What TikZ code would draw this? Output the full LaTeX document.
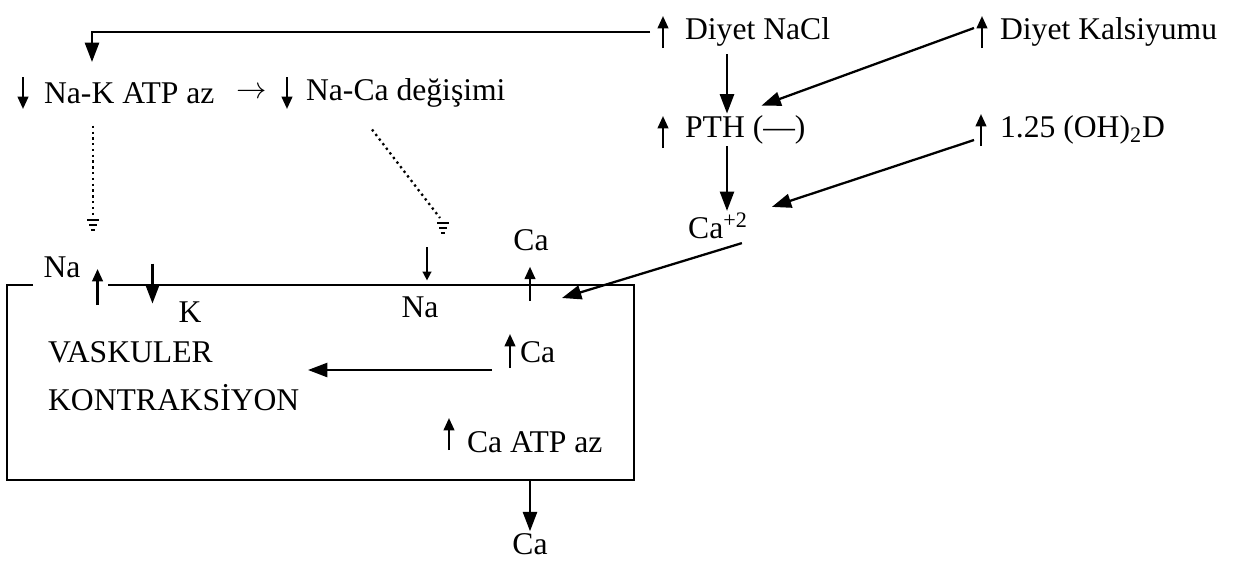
\documentclass[tikz,border=0pt]{standalone}
\usepackage{fontspec}
\setmainfont{Liberation Serif}
\usetikzlibrary{arrows.meta, calc}
\tikzset{
  lbl/.style={inner sep=1pt, font=\fontsize{18}{20}\selectfont},
  arr/.style={-{Triangle[length=11pt, width=8pt]}, line width=1.3pt},
  ind/.style={-{Triangle[length=7pt, width=6pt]}, line width=1.3pt},
  thinind/.style={-{Triangle[length=5pt, width=5pt]}, line width=0.9pt},
  dots/.style={dotted, line width=1.3pt},
  pics/upmark/.style={code={\draw[ind] (0,16) -- (0,-16);}},
  pics/downmark/.style={code={\draw[ind] (0,-16) -- (0,16);}},
  pics/gndmark/.style={code={\draw[line width=1.2pt] (-6,0) -- (6,0) (-4,5) -- (4,5) (-2,10) -- (2,10);}}
}

\begin{document}
\begin{tikzpicture}[x=0.02cm, y=-0.02cm]
\useasboundingbox (0,0) rectangle (1235,562);

% top row
\node[lbl, anchor=west] (nacl) at (683,32) {Diyet NaCl};
\node[lbl, anchor=west] (kals) at (998,32) {Diyet Kalsiyumu};
\node[lbl, anchor=west] (nak) at (42,93) {Na-K ATP az};
\node[lbl] (to) at (252,93) {$\rightarrow$};
\node[lbl, anchor=west] (naca) at (304,93) {Na-Ca değişimi};
\node[lbl, anchor=west] (pth) at (683,130) {PTH (---)};
\node[lbl, anchor=west] (vitd) at (998,130) {1.25 (OH)\textsubscript{2}D};
\node[lbl] (ca2) at (718,226) {Ca\textsuperscript{+2}};

\pic at ($(nacl.west)+(-20,0)$) {upmark};
\pic at ($(kals.west)+(-16,0)$) {upmark};
\pic at ($(nak.west)+(-19,0)$) {downmark};
\pic at ($(naca.west)+(-17,0)$) {downmark};
\pic at ($(pth.west)+(-20,2)$) {upmark};
\pic at ($(vitd.west)+(-17,0)$) {upmark};

% connectors
\coordinate (tonak) at ($(nak.west)+(50,-31)$);
\coordinate (stem) at ($(nacl.south west)+(44,6)$);
\draw[arr] ($(nacl.west)+(-33,0)$) -| (tonak);
\draw[arr] (stem) -- (stem |- pth.north);
\draw[arr] (stem |- pth.south) -- (stem |- ca2.north);
\draw[arr] ($(kals.west)+(-24,-4)$) -- ($(pth.north east)+(-46,-8)$);
\draw[arr] ($(vitd.west)+(-24,10)$) -- ($(ca2.north east)+(22,-4)$);
\coordinate (cain) at (562,298);
\draw[arr] ($(ca2.south east)+(-8,2)$) -- (cain);

% dotted effects
\coordinate (g1) at (93,220);
\coordinate (g2) at (443,223);
\draw[dots] ($(nak.south west)+(51,20)$) -- ($(g1)+(0,-4)$);
\draw[dots] ($(naca.south west)+(68,20)$) -- ($(g2)+(-3,-5)$);
\pic at (g1) {gndmark};
\pic at (g2) {gndmark};

% cell
\draw[line width=1.3pt] (33,285) -- (7,285) -- (7,480) -- (634,480) -- (634,285) -- (108,285);

\node[lbl] (nao) at (62,267) {Na};
\node[lbl] (ki) at (190,312) {K};
\node[lbl] (nai) at (420,307) {Na};
\node[lbl] (cao) at (531,240) {Ca};
\node[lbl, anchor=west] (cai) at (518,352) {Ca};
\node[lbl, anchor=west] (vask) at (46,352) {VASKULER};
\node[lbl, anchor=west] (kont) at (46,398) {KONTRAKSİYON};
\node[lbl, anchor=west] (caatp) at (465,442) {Ca ATP az};
\node[lbl] (caex) at (530,544) {Ca};

\draw[ind] ($(nao.east)+(15,38)$) -- ($(nao.east)+(15,2)$);
\draw[arr] ($(ki.north west)+(-24,-36)$) -- ($(ki.north west)+(-24,4)$);
\draw[thinind] ($(nai.north)+(7,-47)$) -- ($(nai.north)+(7,-14)$);
\draw[ind] ($(cao.south)+(-1,48)$) -- ($(cao.south)+(-1,14)$);
\draw[ind] ($(cai.west)+(-8,16)$) -- ($(cai.west)+(-8,-18)$);
\draw[ind] ($(caatp.west)+(-16,8)$) -- ($(caatp.west)+(-16,-24)$);
\coordinate (contr) at (308,370);
\draw[arr] ($(cai.west)+(-26,18)$) -- (contr);
\draw[arr] ($(caex.north)+(0,-52)$) -- (caex.north);
\end{tikzpicture}
\end{document}
